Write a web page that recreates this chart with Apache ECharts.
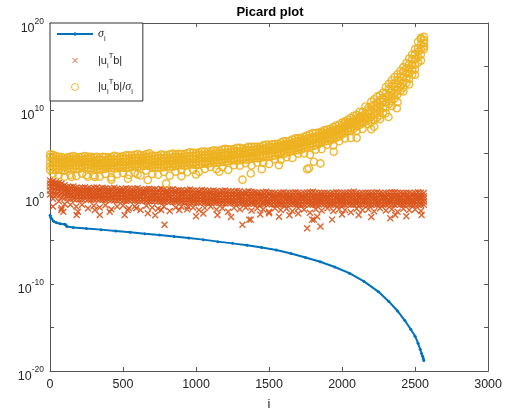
<!DOCTYPE html>
<html>
<head>
<meta charset="utf-8">
<script src="https://cdn.jsdelivr.net/npm/echarts@6/dist/echarts.min.js"></script>
<style>html,body{margin:0;padding:0;background:#fff}#chart{width:505px;height:416px}</style>
</head>
<body>
<div id="chart"></div>
<script>
// ---------------- data ----------------
// y values are stored as log10 exponents (the plot is a semilog plot)
const titleText = 'Picard plot';
const xAxisName = 'i';
const xTicks = [0, 500, 1000, 1500, 2000, 2500, 3000];
const yTickExponents = [-20, -10, 0, 10, 20];

// singular values sigma_i (blue line)
const sigmaI = [1,5,10,25,45,70,100,108,116,160,250,350,450,550,650,750,850,950,1050,1150,1250,1350,1450,1550,1650,1750,1850,1950,2050,2150,2250,2320,2380,2430,2470,2500,2520,2535,2545,2552,2556,2560];
const sigmaLog10 = [-2.1,-2.35,-2.5,-2.8,-2.97,-3.07,-3.13,-3.2,-3.4,-3.5,-3.62,-3.75,-3.9,-4.05,-4.22,-4.38,-4.55,-4.72,-4.9,-5.13,-5.33,-5.55,-5.8,-6.1,-6.5,-6.95,-7.45,-8.05,-8.75,-9.7,-10.9,-12.0,-13.1,-14.2,-15.2,-16.0,-16.8,-17.5,-18.0,-18.3,-18.55,-18.8];

// sample indices of the scatter bands
const iEven = [1,40,80,120,160,200,240,280,320,360,400,440,480,520,560,600,640,680,720,760,800,840,880,920,960,1000,1040,1080,1120,1160,1200,1240,1280,1320,1360,1400,1440,1480,1520,1560,1600,1640,1680,1720,1760,1800,1840,1880,1920,1960,2000,2040,2080,2120,2160,2200,2240,2280,2320,2360,2400,2440,2480,2520,2560];
const iOdd = [20,60,100,140,180,220,260,300,340,380,420,460,500,540,580,620,660,700,740,780,820,860,900,940,980,1020,1060,1100,1140,1180,1220,1260,1300,1340,1380,1420,1460,1500,1540,1580,1620,1660,1700,1740,1780,1820,1860,1900,1940,1980,2020,2060,2100,2140,2180,2220,2260,2300,2340,2380,2420,2460,2500,2540];

// |u_i^T b| (orange crosses), log10, band rows from top (A) to bottom (F)
const utbA = [1.9,1.7,1.55,1.15,1.2,1.0,1.1,0.95,1.1,1.05,0.9,1.05,0.85,1.0,0.9,1.0,0.8,0.95,0.85,0.95,0.75,0.9,0.8,0.7,0.85,0.7,0.8,0.65,0.75,0.6,0.75,0.6,0.7,0.5,0.65,0.55,0.45,0.6,0.5,0.4,0.55,0.45,0.55,0.4,0.5,0.6,0.45,0.5,0.4,0.55,0.45,0.5,0.6,0.4,0.5,0.45,0.55,0.4,0.5,0.55,0.45,0.5,0.4,0.55,0.45];
const utbA2 = [1.8,1.6,1.35,1.15,1.05,1.05,1.0,1.05,0.95,1.0,0.95,0.95,0.9,0.95,0.95,0.85,0.9,0.9,0.8,0.85,0.85,0.75,0.75,0.8,0.75,0.7,0.75,0.7,0.65,0.7,0.65,0.6,0.65,0.55,0.6,0.5,0.55,0.5,0.45,0.5,0.45,0.5,0.5,0.45,0.55,0.5,0.45,0.45,0.5,0.5,0.45,0.55,0.5,0.45,0.5,0.5,0.45,0.45,0.55,0.5,0.45,0.45,0.5,0.5];
const utbB = [1.5,1.3,1.0,0.85,0.8,0.7,0.75,0.65,0.7,0.6,0.7,0.55,0.65,0.55,0.6,0.5,0.6,0.45,0.55,0.5,0.4,0.5,0.4,0.45,0.35,0.45,0.3,0.4,0.3,0.35,0.25,0.35,0.2,0.3,0.2,0.25,0.15,0.25,0.1,0.2,0.15,0.1,0.2,0.1,0.15,0.05,0.2,0.1,0.15,0.05,0.2,0.1,0.15,0.05,0.2,0.1,0.15,0.0,0.15,0.1,0.2,0.05,0.15,0.1];
const utbB2 = [1.55,1.45,1.2,0.9,0.85,0.7,0.75,0.7,0.7,0.65,0.65,0.6,0.6,0.6,0.55,0.55,0.5,0.55,0.5,0.5,0.45,0.45,0.45,0.4,0.4,0.35,0.4,0.3,0.35,0.3,0.3,0.25,0.3,0.2,0.25,0.2,0.2,0.15,0.15,0.1,0.15,0.1,0.15,0.05,0.15,0.1,0.05,0.15,0.1,0.1,0.05,0.15,0.1,0.1,0.05,0.15,0.1,0.05,0.15,0.1,0.05,0.15,0.1,0.05,0.1];
const utbC = [1.2,1.1,0.9,0.55,0.5,0.4,0.45,0.35,0.4,0.3,0.35,0.25,0.3,0.2,0.3,0.2,0.25,0.15,0.2,0.1,0.2,0.1,0.15,0.05,0.1,0.0,0.1,-0.05,0.05,-0.05,0.0,-0.1,0.0,-0.1,-0.05,-0.15,-0.05,-0.15,-0.1,-0.2,-0.1,-0.15,-0.25,-0.1,-0.2,-0.15,-0.25,-0.1,-0.2,-0.15,-0.25,-0.1,-0.2,-0.15,-0.25,-0.1,-0.2,-0.15,-0.25,-0.1,-0.2,-0.15,-0.25,-0.1,-0.2];
const utbC2 = [1.15,1.0,0.7,0.5,0.45,0.4,0.4,0.35,0.35,0.3,0.3,0.3,0.25,0.25,0.25,0.2,0.2,0.15,0.15,0.15,0.1,0.1,0.1,0.05,0.05,0.05,0.0,0.0,0.0,-0.05,-0.05,-0.05,-0.05,-0.1,-0.1,-0.1,-0.1,-0.15,-0.15,-0.15,-0.15,-0.2,-0.15,-0.15,-0.2,-0.2,-0.15,-0.15,-0.2,-0.2,-0.15,-0.15,-0.2,-0.2,-0.15,-0.15,-0.2,-0.2,-0.15,-0.15,-0.2,-0.2,-0.15,-0.15];
const utbD = [0.7,0.6,0.3,0.2,0.1,0.05,0.1,0.0,0.05,-0.05,0.0,-0.1,-0.05,-0.1,-0.15,-0.1,-0.15,-0.2,-0.15,-0.25,-0.2,-0.3,-0.25,-0.3,-0.35,-0.3,-0.4,-0.35,-0.4,-0.45,-0.4,-0.5,-0.45,-0.5,-0.55,-0.5,-0.6,-0.55,-0.5,-0.6,-0.5,-0.55,-0.6,-0.5,-0.55,-0.6,-0.5,-0.55,-0.6,-0.5,-0.55,-0.6,-0.5,-0.55,-0.6,-0.5,-0.55,-0.6,-0.5,-0.55,-0.6,-0.5,-0.55,-0.6];
const utbD2 = [0.75,0.65,0.45,0.2,0.15,0.05,0.1,0.0,0.05,-0.05,0.0,-0.1,-0.05,-0.15,-0.05,-0.15,-0.1,-0.2,-0.15,-0.25,-0.2,-0.3,-0.2,-0.3,-0.25,-0.35,-0.3,-0.4,-0.3,-0.4,-0.4,-0.4,-0.4,-0.45,-0.45,-0.5,-0.5,-0.5,-0.5,-0.55,-0.55,-0.5,-0.6,-0.55,-0.5,-0.6,-0.55,-0.5,-0.6,-0.55,-0.6,-0.5,-0.55,-0.55,-0.5,-0.55,-0.6,-0.55,-0.5,-0.55,-0.55,-0.5,-0.6,-0.5,-0.55];
const utbE = [0.3,0.2,0.0,-0.15,-0.2,-0.3,-0.2,-0.35,-0.25,-0.35,-0.3,-0.4,-0.35,-0.45,-0.35,-0.45,-0.4,-0.5,-0.45,-0.55,-0.5,-0.6,-0.5,-0.6,-0.55,-0.65,-0.6,-0.7,-0.6,-0.7,-0.75,-0.65,-0.75,-0.7,-0.8,-0.75,-0.85,-0.75,-0.85,-0.8,-0.9,-0.8,-0.85,-0.9,-0.8,-0.9,-0.85,-0.8,-0.9,-0.85,-0.9,-0.8,-0.9,-0.85,-0.8,-0.9,-0.85,-0.9,-0.8,-0.9,-0.85,-0.8,-0.9,-0.85,-0.9];
const utbE2 = [0.25,0.1,-0.1,-0.2,-0.25,-0.25,-0.3,-0.3,-0.3,-0.35,-0.35,-0.4,-0.4,-0.4,-0.4,-0.45,-0.45,-0.5,-0.5,-0.55,-0.55,-0.55,-0.55,-0.6,-0.6,-0.65,-0.65,-0.65,-0.7,-0.7,-0.7,-0.7,-0.75,-0.75,-0.75,-0.8,-0.8,-0.8,-0.85,-0.85,-0.85,-0.8,-0.9,-0.85,-0.85,-0.9,-0.8,-0.85,-0.9,-0.85,-0.85,-0.9,-0.8,-0.85,-0.9,-0.85,-0.85,-0.9,-0.85,-0.8,-0.9,-0.85,-0.85,-0.9];
const utbF = [-0.2,-0.5,-0.8,-0.9,-1.1,-0.9,-1.3,-1.0,-1.2,-0.95,-1.4,-1.1,-1.0,-1.3,-1.1,-1.5,-1.0,-1.2,-1.35,-1.1,-1.6,-1.2,-1.1,-1.4,-1.2,-1.5,-1.25,-1.1,-1.45,-1.3,-1.7,-1.25,-1.4,-1.2,-1.55,-1.3,-1.45,-1.7,-1.3,-1.5,-1.35,-1.6,-1.3,-1.45,-1.8,-1.4,-1.55,-1.3,-1.6,-1.4,-1.5,-1.75,-1.35,-1.5,-1.4,-1.65,-1.3,-1.55,-1.4,-1.7,-1.35,-1.5,-1.45,-1.6];
const utbOutI = [20,77,80,91,182,191,307,341,409,511,532,591,670,720,761,784,886,943,1000,1050,1147,1240,1318,1364,1375,1440,1500,1568,1640,1700,1761,1795,1807,1830,1852,1932,2000,2114,2200,2330,2364,2440,2545];
const utbOutLog10 = [-1.1,-1.5,-1.3,-1.7,-2.06,-1.7,-1.5,-2.06,-1.7,-2.06,-1.5,-1.3,-1.87,-2.1,-1.5,-3.2,-1.5,-1.1,-2.2,-1.9,-2.06,-2.3,-3.2,-2.6,-2.6,-2.0,-1.87,-2.26,-2.1,-1.9,-3.6,-2.6,-2.6,-2.26,-3.4,-2.6,-2.0,-2.06,-2.3,-2.45,-2.06,-2.2,-2.06];

// |u_i^T b| / sigma_i (yellow circles), log10, band rows from top (A) to bottom (F)
const ratioA = [4.9,4.7,4.6,4.55,4.7,4.55,4.71,4.61,4.61,4.62,4.53,4.73,4.6,4.8,4.77,4.94,4.8,5.02,4.73,4.9,4.77,4.98,4.95,4.92,5.14,5.06,5.23,5.17,5.36,5.3,5.53,5.46,5.65,5.53,5.77,5.78,5.78,6.04,6.05,6.09,6.4,6.46,6.74,6.77,7.05,7.35,7.4,7.68,7.82,8.22,8.55,8.88,9.34,9.8,10.4,10.95,11.53,11.97,13.0,13.78,14.49,15.4,16.37,17.85,18.4];
const ratioA2 = [4.85,4.63,4.48,4.61,4.58,4.63,4.63,4.53,4.49,4.6,4.6,4.66,4.67,4.78,4.85,4.82,4.94,4.75,4.71,4.83,4.9,4.87,4.94,5.05,5.07,5.1,5.22,5.26,5.3,5.44,5.47,5.5,5.64,5.63,5.77,5.77,5.93,6.0,6.07,6.27,6.38,6.59,6.78,6.91,7.2,7.35,7.51,7.75,8.04,8.31,8.69,9.09,9.43,9.76,10.26,11.24,11.69,12.64,13.42,14.1,14.93,15.9,17.0,18.3];
const ratioB = [4.5,4.33,4.13,4.31,4.33,4.28,4.38,4.13,4.24,4.2,4.35,4.26,4.42,4.38,4.5,4.47,4.64,4.3,4.46,4.48,4.45,4.62,4.59,4.7,4.67,4.85,4.77,4.96,4.95,5.09,5.07,5.25,5.19,5.38,5.37,5.52,5.53,5.75,5.72,5.97,6.08,6.19,6.48,6.56,6.8,6.9,7.26,7.4,7.69,7.86,8.44,8.64,9.08,9.36,9.96,10.59,11.14,11.94,12.77,13.45,14.43,15.25,16.4,18.15];
const ratioB2 = [4.6,4.38,4.29,4.31,4.35,4.25,4.36,4.36,4.21,4.22,4.28,4.28,4.35,4.4,4.42,4.49,4.5,4.62,4.38,4.45,4.47,4.53,4.6,4.62,4.69,4.71,4.83,4.82,4.96,5.0,5.08,5.11,5.25,5.23,5.37,5.43,5.53,5.59,5.7,5.79,6.0,6.11,6.34,6.42,6.7,6.85,7.0,7.33,7.52,7.77,8.15,8.53,8.84,9.22,9.57,10.4,10.83,11.37,12.4,13.08,13.84,14.8,15.82,17.1,18.0];
const ratioC = [4.0,4.03,3.99,3.96,4.0,3.95,4.06,4.01,3.91,3.87,3.98,3.93,4.05,4.0,4.17,4.14,4.25,4.22,4.08,4.05,4.22,4.18,4.3,4.27,4.39,4.36,4.53,4.47,4.66,4.65,4.78,4.76,4.95,4.93,5.07,5.08,5.28,5.29,5.45,5.49,5.75,5.86,5.94,6.27,6.35,6.6,6.7,7.08,7.22,7.52,7.85,8.28,8.54,8.97,9.27,9.9,10.28,10.92,11.75,12.63,13.34,14.25,15.22,16.7,17.7];
const ratioC2 = [4.1,4.03,3.83,3.96,3.98,3.98,4.03,3.83,3.89,3.9,3.95,4.01,4.02,4.08,4.15,4.17,4.24,4.0,4.06,4.13,4.15,4.22,4.29,4.3,4.37,4.45,4.47,4.56,4.65,4.69,4.77,4.85,4.94,4.98,5.07,5.17,5.28,5.35,5.47,5.62,5.78,5.89,6.13,6.31,6.45,6.65,6.91,7.15,7.34,7.61,8.09,8.39,8.73,9.11,9.61,10.09,10.54,11.49,12.22,12.95,13.78,14.75,15.85,17.5];
const ratioD = [3.6,3.63,3.43,3.66,3.63,3.63,3.73,3.48,3.59,3.55,3.65,3.61,3.72,3.73,3.75,3.87,3.89,3.65,3.76,3.73,3.85,3.82,3.94,3.95,3.97,4.1,4.07,4.21,4.25,4.29,4.42,4.4,4.54,4.58,4.62,4.77,4.78,4.95,5.12,5.17,5.43,5.54,5.68,5.96,6.1,6.25,6.56,6.75,6.94,7.31,7.69,7.94,8.43,8.76,9.16,9.49,9.94,10.84,11.62,12.3,13.13,14.2,15.2,16.95];
const ratioD2 = [3.5,3.58,3.54,3.61,3.65,3.6,3.71,3.66,3.56,3.52,3.63,3.58,3.7,3.65,3.82,3.79,3.9,3.87,3.73,3.7,3.82,3.78,3.95,3.92,4.04,4.01,4.13,4.12,4.31,4.3,4.38,4.46,4.55,4.58,4.67,4.73,4.83,4.94,5.05,5.14,5.3,5.51,5.59,5.82,6.05,6.15,6.4,6.68,6.82,7.12,7.5,7.88,8.19,8.57,9.02,9.2,9.63,10.27,11.25,11.93,12.74,13.65,14.62,16.05,17.3];
const ratioE = [3.1,3.13,3.09,3.26,3.3,3.25,3.41,3.31,3.26,3.22,3.33,3.28,3.4,3.35,3.52,3.49,3.6,3.57,3.43,3.4,3.52,3.48,3.65,3.62,3.74,3.71,3.83,3.82,4.01,4.0,4.03,4.21,4.2,4.33,4.32,4.48,4.48,4.69,4.7,4.89,4.95,5.21,5.34,5.47,5.75,5.85,6.1,6.38,6.52,6.82,7.2,7.58,7.84,8.27,8.72,8.6,9.13,9.67,10.7,11.33,12.19,13.1,14.07,15.45,17.0];
const ratioE2 = [3.15,3.13,3.03,3.26,3.28,3.33,3.33,3.18,3.24,3.25,3.3,3.31,3.37,3.43,3.5,3.52,3.59,3.35,3.41,3.43,3.5,3.57,3.64,3.65,3.72,3.75,3.82,3.91,3.95,4.04,4.12,4.2,4.24,4.33,4.42,4.47,4.58,4.7,4.77,4.92,5.08,5.29,5.38,5.61,5.8,5.95,6.26,6.45,6.64,6.96,7.39,7.64,8.13,8.46,8.86,8.89,9.39,10.29,11.02,11.8,12.58,13.6,14.65,16.4];
const ratioF = [2.7,2.53,2.33,2.56,2.43,2.68,2.33,2.48,2.34,2.65,2.25,2.61,2.77,2.53,2.8,2.47,3.04,2.65,2.56,2.88,2.45,2.92,3.09,2.85,3.12,2.9,3.22,3.46,3.2,3.44,3.12,3.65,3.59,3.88,3.62,3.97,3.93,3.8,4.32,4.27,4.58,4.49,4.98,5.01,4.85,5.45,5.51,6.0,5.94,6.41,6.74,6.79,7.58,7.81,8.36,8.09,8.94,9.64,10.47,10.9,12.13,12.95,14.05,15.7];
const ratioOutI = [148,250,307,420,534,600,670,795,900,1000,1159,1318,1375,1450,1568,1761,1773,1807,1852,1943,2100,2200,2318,2375];
const ratioOutLog10 = [2.3,2.5,2.3,2.0,2.1,2.6,1.95,1.57,2.4,2.6,2.9,2.0,2.7,3.2,3.67,3.2,3.3,4.05,3.86,5.2,6.8,7.8,9.2,10.2];

// legend labels (rich text)
const legendLabels = {
  sigma: '{g|σ}{sub|i}',
  utb: '{t||u}{sub|i}{sup|T}{t|b|}',
  ratio: '{t||u}{sub|i}{sup|T}{t|b|/}{g|σ}{sub|i}'
};

// ---------------- chart ----------------
const FONT = '"Liberation Sans", Arial, Helvetica, sans-serif';
const AX = '#555555';
const TXT = '#262626';
const C_SIGMA = '#0072BD', C_UTB = '#D95319', C_RATIO = '#EDB120';

function pairs(xs, es) { return xs.map((x, k) => [x, es[k]]); }

const sigmaData = pairs(sigmaI, sigmaLog10);
const utbData = [].concat(
  pairs(iEven, utbA), pairs(iOdd, utbA2), pairs(iOdd, utbB), pairs(iEven, utbB2),
  pairs(iEven, utbC), pairs(iOdd, utbC2), pairs(iOdd, utbD), pairs(iEven, utbD2),
  pairs(iEven, utbE), pairs(iOdd, utbE2), pairs(iOdd, utbF),
  pairs(utbOutI, utbOutLog10));
const ratioData = [].concat(
  pairs(iEven, ratioA), pairs(iOdd, ratioA2), pairs(iOdd, ratioB), pairs(iEven, ratioB2),
  pairs(iEven, ratioC), pairs(iOdd, ratioC2), pairs(iOdd, ratioD), pairs(iEven, ratioD2),
  pairs(iEven, ratioE), pairs(iOdd, ratioE2), pairs(iOdd, ratioF),
  pairs(ratioOutI, ratioOutLog10));

// symbol paths (padding points keep the mark small inside its box)
const DOT = 'path://M0,0M10,10M3.5,5A1.5,1.5,0,1,1,6.5,5A1.5,1.5,0,1,1,3.5,5Z';
const CROSS = 'path://M0,0M14,14M4.5,4.5L9.5,9.5M9.5,4.5L4.5,9.5';
const RING = 'path://M0,0M14,14M10.5,7A3.5,3.5,0,1,1,3.5,7A3.5,3.5,0,1,1,10.5,7Z';

const chart = echarts.init(document.getElementById('chart'), null, {renderer: 'canvas'});

const xMin = xTicks[0], xMax = xTicks[xTicks.length - 1];
const yMin = yTickExponents[0], yMax = yTickExponents[yTickExponents.length - 1];

const axisCommon = {
  axisLine: {show: true, onZero: false, lineStyle: {color: AX, width: 1}},
  axisTick: {show: true, inside: true, length: 4, lineStyle: {color: AX, width: 1}},
  splitLine: {show: false}
};

const yLabelRich = {
  b: {fontFamily: FONT, fontSize: 12.5, color: TXT, lineHeight: 14, padding: [8, 0, 0, 0], verticalAlign: 'top'},
  s: {fontFamily: FONT, fontSize: 8.5, color: TXT, lineHeight: 18, padding: [3, 0, 0, 0], verticalAlign: 'top'}
};

chart.setOption({
  animation: false,
  backgroundColor: '#ffffff',
  title: {
    text: titleText, left: 270, top: 6, textAlign: 'center', padding: 0,
    textStyle: {fontFamily: FONT, fontSize: 13, fontWeight: 'bold', color: '#000'}
  },
  grid: {left: 50, right: 15, top: 23, bottom: 44, containLabel: false},
  xAxis: [
    Object.assign({
      type: 'value', min: xMin, max: xMax, interval: 500, position: 'bottom',
      axisLabel: {color: TXT, fontFamily: FONT, fontSize: 12.5, margin: 7, formatter: v => String(v)},
      name: xAxisName, nameLocation: 'middle', nameGap: 27,
      nameTextStyle: {color: TXT, fontFamily: FONT, fontSize: 13}
    }, axisCommon),
    Object.assign({
      type: 'value', min: xMin, max: xMax, interval: 500, position: 'top',
      axisLabel: {show: false}
    }, axisCommon)
  ],
  yAxis: [
    Object.assign({
      type: 'value', min: yMin, max: yMax, interval: 5, position: 'left',
      axisLabel: {
        margin: 6, showMinLabel: true, showMaxLabel: true,
        formatter: v => (v % 10 === 0 ? '{b|10}{s|' + v + '}' : ''),
        rich: yLabelRich
      }
    }, axisCommon),
    Object.assign({
      type: 'value', min: yMin, max: yMax, interval: 5, position: 'right',
      axisLabel: {show: false}
    }, axisCommon)
  ],
  legend: {
    orient: 'vertical', left: 50, top: 23,
    data: ['sigma', 'utb', 'ratio'],
    itemWidth: 36, itemHeight: 14, itemGap: 8.5,
    padding: [2, 10, 5, 6],
    backgroundColor: '#ffffff', borderColor: '#333333', borderWidth: 1,
    selectedMode: false,
    itemStyle: {borderWidth: 1},
    formatter: name => legendLabels[name],
    textStyle: {
      fontFamily: FONT, fontSize: 11, color: TXT, lineHeight: 18,
      rich: {
        t: {fontFamily: FONT, fontSize: 11, color: TXT, lineHeight: 18},
        g: {fontFamily: '"Liberation Serif", "DejaVu Serif", serif', fontStyle: 'italic', fontSize: 12, color: TXT, lineHeight: 18},
        sub: {fontFamily: FONT, fontSize: 7.5, color: TXT, lineHeight: 10, verticalAlign: 'bottom'},
        sup: {fontFamily: FONT, fontSize: 7.5, color: TXT, lineHeight: 10, verticalAlign: 'top'}
      }
    }
  },
  series: [
    {
      name: 'sigma', type: 'line', data: sigmaData,
      symbol: DOT, symbolSize: 10, showSymbol: true,
      lineStyle: {color: C_SIGMA, width: 2},
      itemStyle: {color: C_SIGMA},
      z: 2
    },
    {
      name: 'utb', type: 'scatter', data: utbData,
      symbol: CROSS, symbolSize: 16.8,
      itemStyle: {color: 'rgba(0,0,0,0)', borderColor: C_UTB, borderWidth: 1.4, opacity: 0.9},
      z: 3
    },
    {
      name: 'ratio', type: 'scatter', data: ratioData,
      symbol: RING, symbolSize: 14.5,
      itemStyle: {color: 'rgba(0,0,0,0)', borderColor: C_RATIO, borderWidth: 1.4, opacity: 0.9},
      z: 4
    }
  ]
});
</script>
</body>
</html>
